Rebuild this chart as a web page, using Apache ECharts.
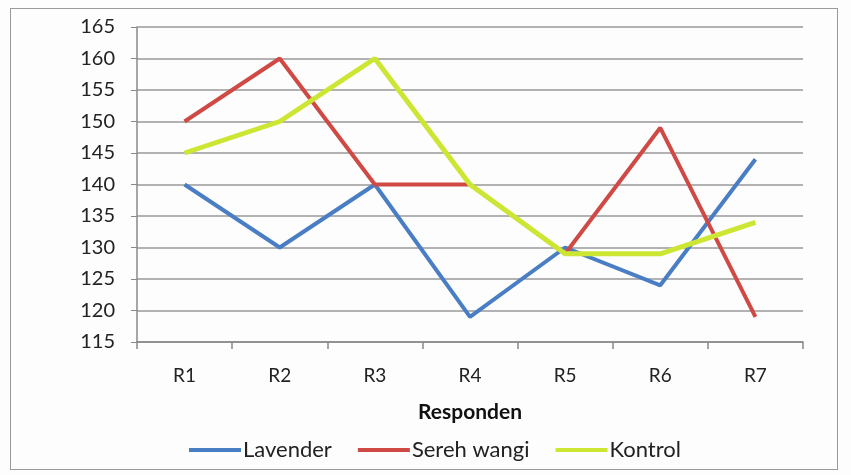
<!DOCTYPE html>
<html>
<head>
<meta charset="utf-8">
<script src="https://cdn.jsdelivr.net/npm/echarts@6/dist/echarts.min.js"></script>
<style>
  html, body { margin: 0; padding: 0; background: #fdfdfd; }
  #chart { width: 851px; height: 475px; }
  #frame {
    position: absolute; left: 10px; top: 8px; width: 826px; height: 460px;
    border: 1.5px solid #9a9a9a; pointer-events: none;
  }
</style>
</head>
<body>
<div id="chart"></div>
<div id="frame"></div>
<script>
// 类目与各系列数值
const categories = ['R1', 'R2', 'R3', 'R4', 'R5', 'R6', 'R7'];
const lavender = [140, 130, 140, 119, 130, 124, 144];
const serehWangi = [150, 160, 140, 140, 129, 149, 119];
const kontrol = [145, 150, 160, 140, 129, 129, 134];

const chart = echarts.init(document.getElementById('chart'));

const font = 'Lato, "Open Sans", sans-serif';

const option = {
    backgroundColor: '#fdfdfd',
    animation: false,
    grid: { left: 137, right: 48, top: 27, bottom: 133 },
    legend: {
        bottom: 9,
        left: 184,
        itemWidth: 52,
        itemHeight: 4,
        itemGap: 26,
        icon: 'rect',
        textStyle: { fontFamily: font, fontSize: 22, color: '#222', padding: [0, 0, 0, -3] },
        data: ['Lavender', 'Sereh wangi', 'Kontrol']
    },
    xAxis: {
        type: 'category',
        data: categories,
        name: 'Responden',
        nameLocation: 'middle',
        nameGap: 60,
        nameTextStyle: { fontFamily: font, fontSize: 21, fontWeight: 'bold', color: '#111' },
        axisLine: { lineStyle: { color: '#888', width: 1.5 } },
        axisTick: { show: true, length: 7, lineStyle: { color: '#888', width: 1.5 } },
        axisLabel: { fontFamily: font, fontSize: 19, color: '#222', margin: 24 }
    },
    yAxis: {
        type: 'value',
        min: 115,
        max: 165,
        interval: 5,
        axisLine: { show: true, lineStyle: { color: '#888', width: 1.5 } },
        axisTick: { show: true, length: 6, lineStyle: { color: '#888' } },
        axisLabel: { fontFamily: font, fontSize: 20, color: '#222', margin: 22 },
        splitLine: { lineStyle: { color: '#999', width: 1.5 } }
    },
    series: [
        {
            name: 'Lavender', type: 'line', data: lavender,
            symbol: 'none', color: '#4a7ec4',
            lineStyle: { width: 4 }
        },
        {
            name: 'Sereh wangi', type: 'line', data: serehWangi,
            symbol: 'none', color: '#d04a45',
            lineStyle: { width: 4 }
        },
        {
            name: 'Kontrol', type: 'line', data: kontrol,
            symbol: 'none', color: '#cde634',
            lineStyle: { width: 5 }
        }
    ]
};

chart.setOption(option);
</script>
</body>
</html>
